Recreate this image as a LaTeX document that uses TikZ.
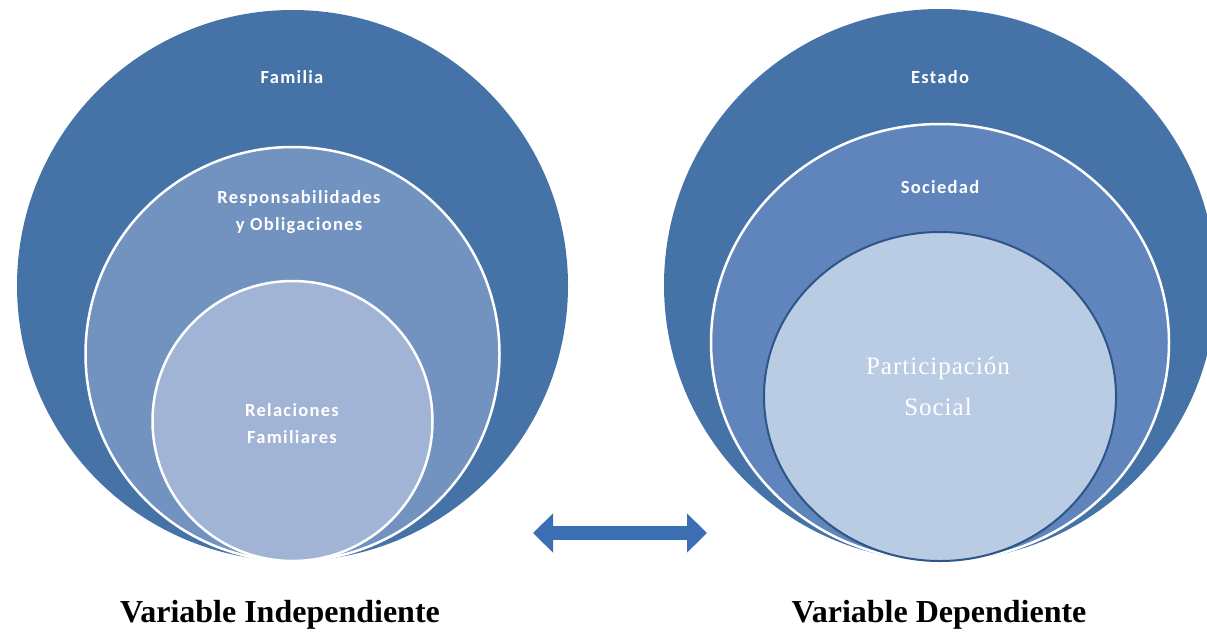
\documentclass[tikz,border=0pt]{standalone}
\usepackage{fontspec}
\setmainfont{Liberation Serif}
\newfontfamily\ringfont{Carlito}[LetterSpace=7.0]
\newfontfamily\partfont{Liberation Serif}[LetterSpace=4.0]
\usepackage{xcolor}
\usepackage{tikz}
\usetikzlibrary{shapes.geometric, arrows.meta, positioning}

\definecolor{outerblue}{RGB}{69,114,167}
\definecolor{fammid}{RGB}{114,146,192}
\definecolor{famin}{RGB}{161,180,214}
\definecolor{socmid}{RGB}{96,133,189}
\definecolor{socin}{RGB}{185,204,228}
\definecolor{socedge}{RGB}{45,85,135}
\definecolor{arrowblue}{RGB}{60,110,180}

\begin{document}
\begin{tikzpicture}[x=1pt, y=-1pt]
\tikzstyle{ring} = [circle, inner sep=0pt, outer sep=0pt, draw=white, line width=2.5pt]
\tikzstyle{oval} = [ellipse, inner sep=0pt, outer sep=0pt, draw=white, line width=2.5pt]
\tikzstyle{ringtext} = [text=white, align=center, font=\ringfont\bfseries\fontsize{18.5}{27}\selectfont]
\tikzstyle{innertext} = [text=white, align=center, font=\partfont\fontsize{25}{41}\selectfont]
\tikzstyle{caption} = [anchor=base, font=\bfseries\fontsize{32}{36}\selectfont]
\tikzstyle{link} = [draw=arrowblue, line width=14pt, {Triangle[width=38pt,length=20pt]}-{Triangle[width=38pt,length=20pt]}]

\useasboundingbox (0,0) rectangle (1207,633);
\clip (0,0) rectangle (1207,633);

% independent variable
\node (familia) [ring, draw=none, fill=outerblue, minimum size=551pt] at (292.5,285.5) {};
\node (deberes) [ring, fill=fammid, minimum size=414pt, anchor=south] at (familia.south) {};
\node (relaciones) [ring, fill=famin, minimum size=280pt, anchor=south] at (familia.south) {};

\node (famtxt) [ringtext] at (292,77) {Familia};
\node (debtxt) [ringtext] at (299,212) {Responsabilidades\\y Obligaciones};
\node (reltxt) [ringtext] at (292,424) {Relaciones\\Familiares};

% dependent variable
\node (estado) [ring, draw=none, fill=outerblue, minimum size=552pt] at (940,285) {};
\node (sociedad) [oval, fill=socmid, minimum width=458pt, minimum height=437pt, anchor=south] at (estado.south) {};
\node (participa) [oval, draw=socedge, line width=2pt, fill=socin, minimum width=352pt, minimum height=329pt, anchor=south] at (estado.south) {};

\node (esttxt) [ringtext] at (940,77) {Estado};
\node (soctxt) [ringtext] at (940,187) {Sociedad};
\node (partxt) [innertext] at (938,386) {Participación\\Social};

% link between both
\coordinate (linkL) at (533,533);
\coordinate (linkR) at (707,533);
\draw [link] (linkL) -- (linkR);

\node (indep) [caption] at (280,622) {Variable Independiente};
\node (dep) [caption] at (939,622) {Variable Dependiente};
\end{tikzpicture}
\end{document}
